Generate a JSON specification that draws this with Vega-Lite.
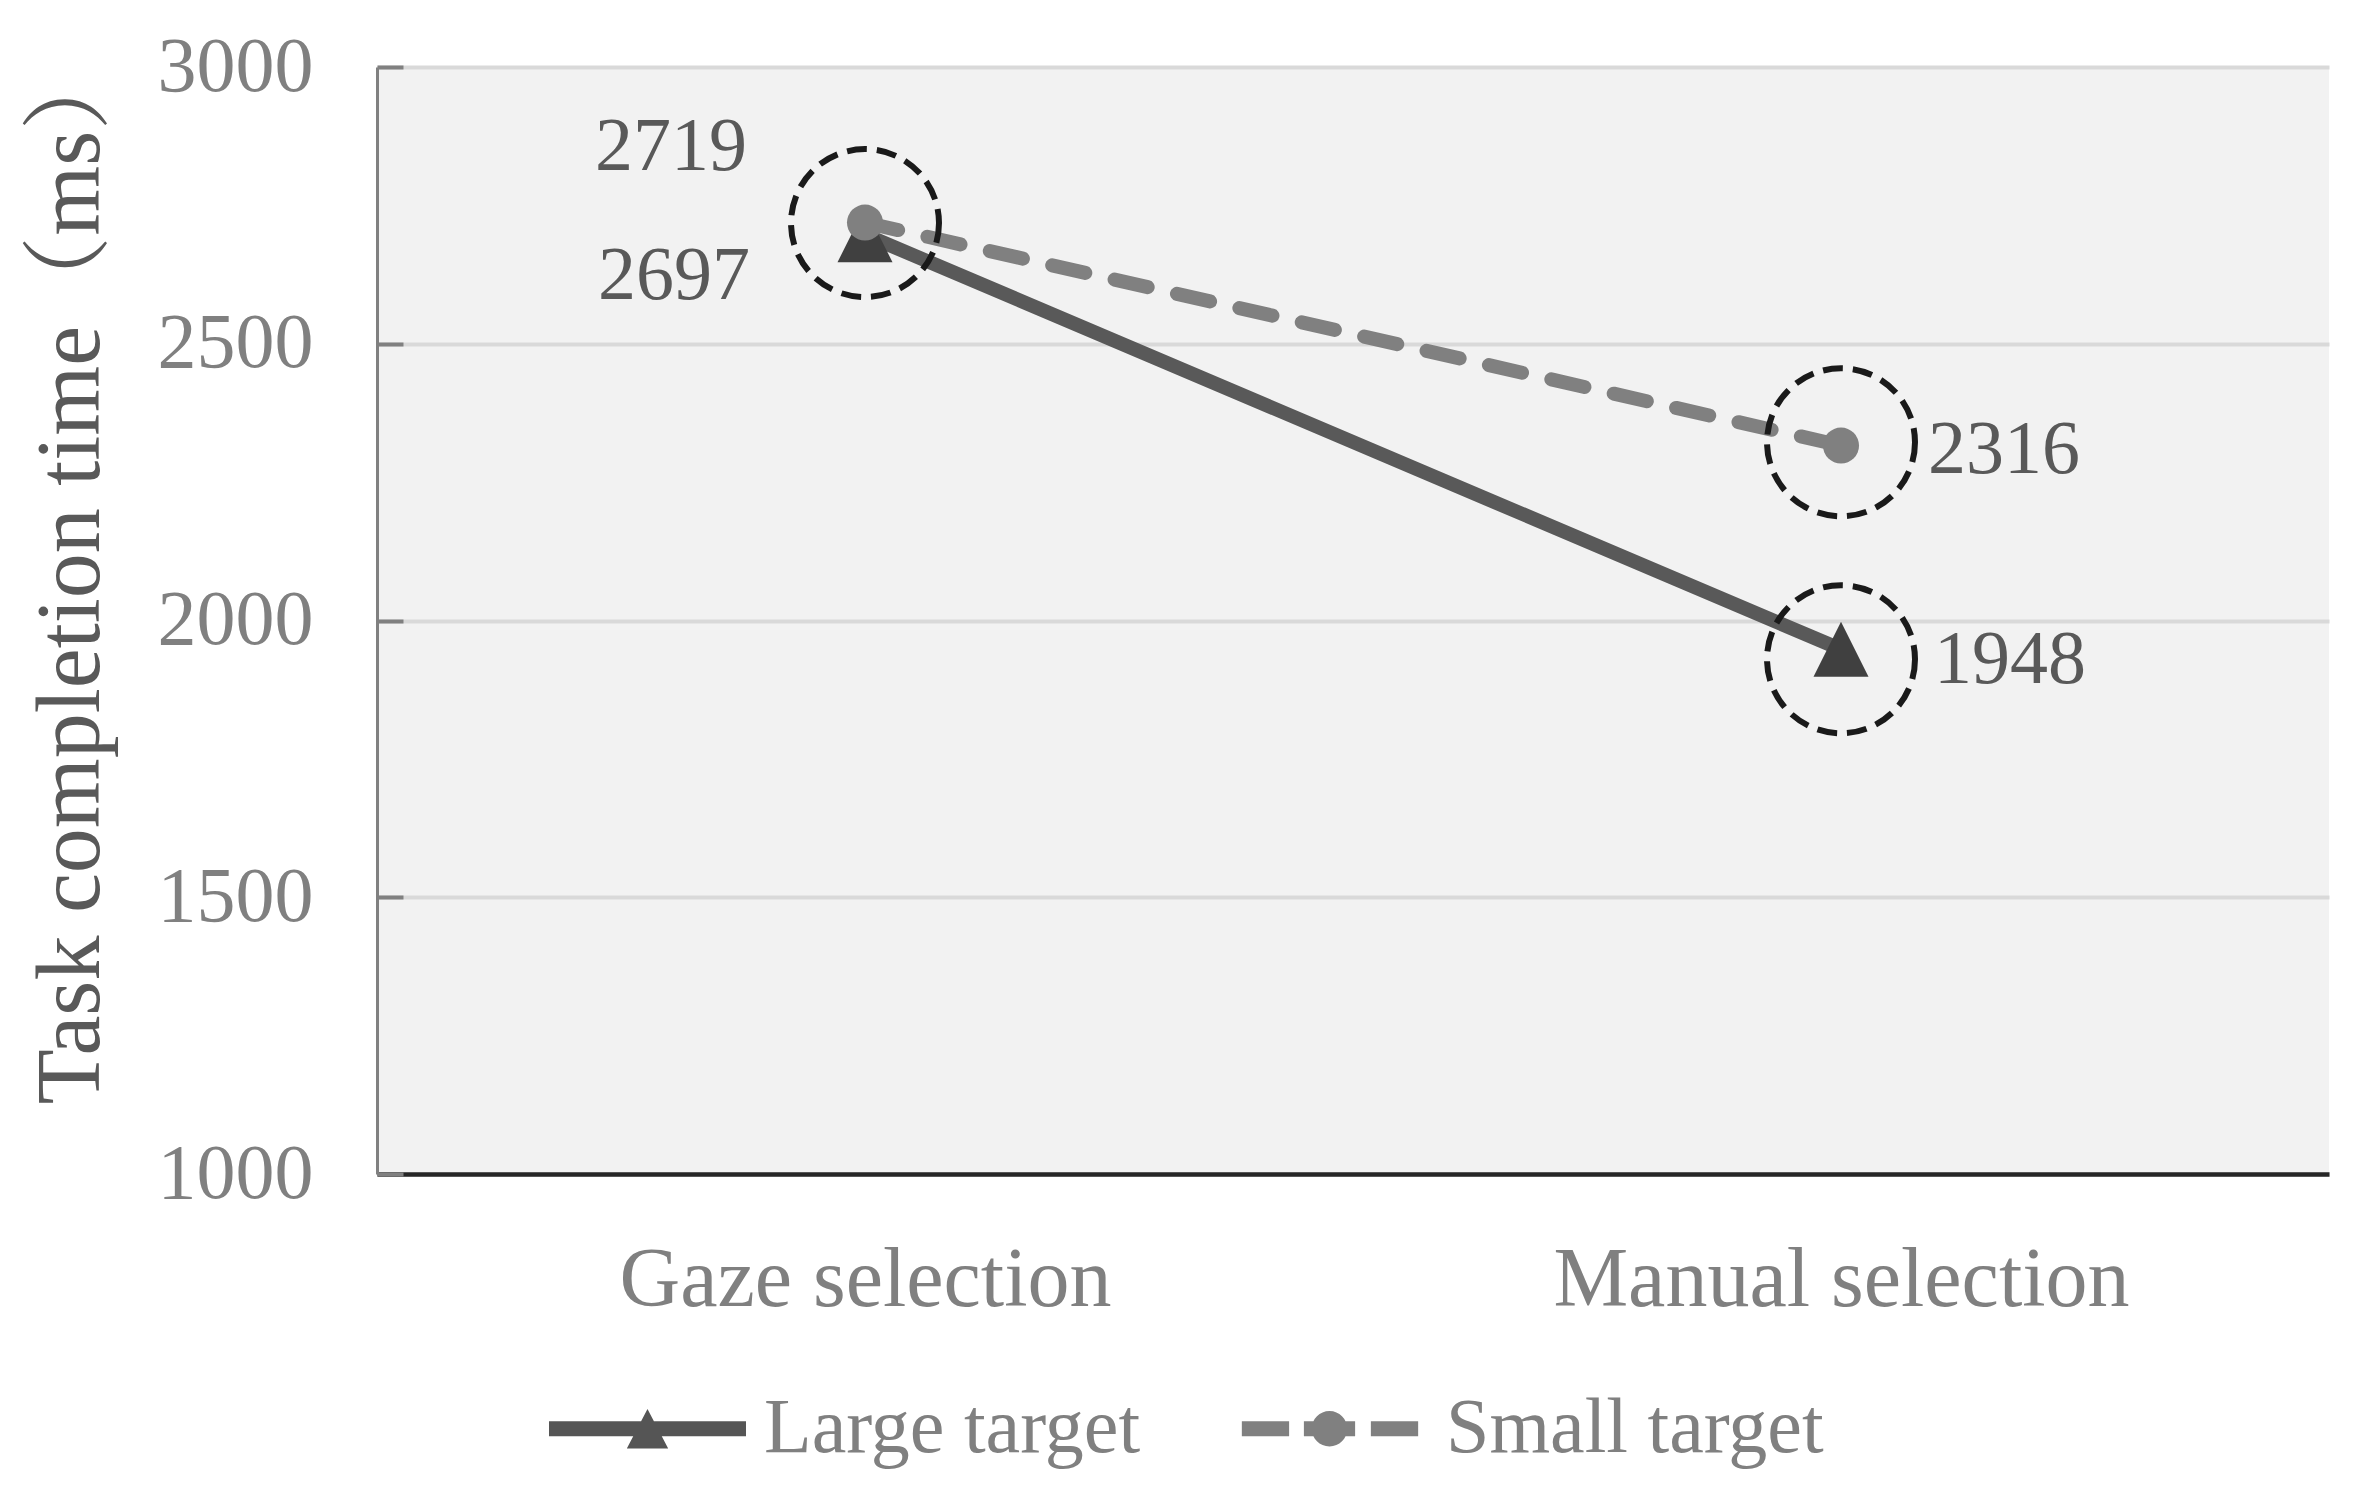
{
  "$schema": "https://vega.github.io/schema/vega-lite/v6.json",
  "autosize": "none",
  "width": 1952,
  "height": 1107,
  "padding": {"left": 377, "top": 67, "right": 47, "bottom": 334},
  "config": {
    "background": "#ffffff",
    "view": {"fill": "#f2f2f2", "stroke": null},
    "font": "Liberation Serif"
  },
  "datasets": {
    "points": [
      {"method": "Gaze selection", "target": "Large target", "time": 2697},
      {"method": "Manual selection", "target": "Large target", "time": 1948},
      {"method": "Gaze selection", "target": "Small target", "time": 2719},
      {"method": "Manual selection", "target": "Small target", "time": 2316}
    ],
    "highlights": [
      {"method": "Gaze selection", "time": 2718},
      {"method": "Manual selection", "time": 2322},
      {"method": "Manual selection", "time": 1930}
    ]
  },
  "data": {"name": "points"},
  "encoding": {
    "x": {
      "field": "method",
      "type": "nominal",
      "sort": ["Gaze selection", "Manual selection"],
      "scale": {"type": "point", "padding": 0.5},
      "axis": {
        "title": null,
        "labelAngle": 0,
        "labelFont": "Liberation Serif",
        "labelFontSize": 84,
        "labelColor": "#808080",
        "labelPadding": 65,
        "ticks": false,
        "grid": false,
        "domainColor": "#262626",
        "domainWidth": 4.5,
        "labelLimit": 1000
      }
    },
    "y": {
      "field": "time",
      "type": "quantitative",
      "scale": {"domain": [1000, 3000], "nice": false, "zero": false},
      "axis": {
        "values": [1000, 1500, 2000, 2500, 3000],
        "format": "d",
        "grid": true,
        "gridColor": "#d9d9d9",
        "gridWidth": 4,
        "domainColor": "#808080",
        "domainWidth": 3,
        "ticks": true,
        "tickSize": -26,
        "tickColor": "#808080",
        "tickWidth": 4,
        "labelPadding": 90,
        "labelFont": "Liberation Serif",
        "labelFontSize": 78,
        "labelColor": "#808080",
        "title": "Task completion time（ms）",
        "titleFont": "Liberation Serif, Noto Serif CJK SC, Noto Sans CJK SC",
        "titleFontSize": 90,
        "titleFontWeight": "normal",
        "titleColor": "#595959",
        "titleAngle": -90,
        "titleX": -306,
        "titleY": 505,
        "titleAlign": "center",
        "titleBaseline": "middle"
      }
    }
  },
  "layer": [
    {
      "transform": [{"filter": "datum.target === 'Large target'"}],
      "mark": {"type": "line", "strokeWidth": 14, "strokeCap": "round", "color": "#595959"}
    },
    {
      "transform": [{"filter": "datum.target === 'Small target'"}],
      "mark": {"type": "line", "strokeWidth": 14, "strokeCap": "round", "color": "#808080", "strokeDash": [34, 30]}
    },
    {
      "mark": {"type": "point", "filled": true, "size": 0},
      "encoding": {
        "color": {
          "field": "target",
          "type": "nominal",
          "scale": {"domain": ["Large target", "Small target"], "range": ["#555555", "#808080"]},
          "legend": {
            "orient": "none",
            "legendX": 172,
            "legendY": 1263,
            "direction": "horizontal",
            "title": null,
            "padding": 0,
            "labelFont": "Liberation Serif",
            "labelFontSize": 78,
            "labelColor": "#808080",
            "labelOffset": 18,
            "labelLimit": 1000,
            "columnPadding": 90,
            "symbolSize": 38809,
            "symbolStrokeWidth": 0,
            "symbolOpacity": 1
          }
        },
        "shape": {
          "field": "target",
          "type": "nominal",
          "scale": {
            "domain": ["Large target", "Small target"],
            "range": [
              "M-1,-0.076H1V0.076H-1Z M0,-0.2L0.21,0.2L-0.21,0.2Z",
              "M-0.89,-0.076H-0.41V0.076H-0.89Z M-0.26,-0.076H0.26V0.076H-0.26Z M0.42,-0.076H0.9V0.076H0.42Z M0.18,0A0.18,0.18 0 1,1 -0.18,0A0.18,0.18 0 1,1 0.18,0Z"
            ]
          },
          "legend": {
            "orient": "none",
            "legendX": 172,
            "legendY": 1263,
            "direction": "horizontal",
            "title": null,
            "padding": 0,
            "labelFont": "Liberation Serif",
            "labelFontSize": 78,
            "labelColor": "#808080",
            "labelOffset": 18,
            "labelLimit": 1000,
            "columnPadding": 90,
            "symbolSize": 38809,
            "symbolStrokeWidth": 0,
            "symbolOpacity": 1
          }
        }
      }
    },
    {
      "transform": [{"filter": "datum.target === 'Large target'"}],
      "mark": {"type": "point", "shape": "M0,-1L1,1L-1,1Z", "filled": true, "color": "#404040", "opacity": 1, "size": 3025}
    },
    {
      "transform": [{"filter": "datum.target === 'Small target'"}],
      "mark": {"type": "point", "shape": "circle", "filled": true, "color": "#808080", "opacity": 1, "size": 1300}
    },
    {
      "data": {"name": "highlights"},
      "mark": {"type": "point", "shape": "circle", "filled": false, "stroke": "#1a1a1a", "strokeWidth": 6, "strokeDash": [20, 10], "opacity": 1, "size": 21900}
    },
    {
      "transform": [{"filter": "datum.target === 'Small target' && datum.method === 'Gaze selection'"}],
      "mark": {"type": "text", "font": "Liberation Serif", "fontSize": 76, "color": "#595959", "align": "center", "baseline": "middle", "dx": -194, "dy": -76},
      "encoding": {"text": {"field": "time", "type": "quantitative"}}
    },
    {
      "transform": [{"filter": "datum.target === 'Large target' && datum.method === 'Gaze selection'"}],
      "mark": {"type": "text", "font": "Liberation Serif", "fontSize": 76, "color": "#595959", "align": "center", "baseline": "middle", "dx": -191, "dy": 41},
      "encoding": {"text": {"field": "time", "type": "quantitative"}}
    },
    {
      "transform": [{"filter": "datum.target === 'Small target' && datum.method === 'Manual selection'"}],
      "mark": {"type": "text", "font": "Liberation Serif", "fontSize": 76, "color": "#595959", "align": "center", "baseline": "middle", "dx": 163, "dy": 4},
      "encoding": {"text": {"field": "time", "type": "quantitative"}}
    },
    {
      "transform": [{"filter": "datum.target === 'Large target' && datum.method === 'Manual selection'"}],
      "mark": {"type": "text", "font": "Liberation Serif", "fontSize": 76, "color": "#595959", "align": "center", "baseline": "middle", "dx": 169, "dy": 11},
      "encoding": {"text": {"field": "time", "type": "quantitative"}}
    }
  ]
}
